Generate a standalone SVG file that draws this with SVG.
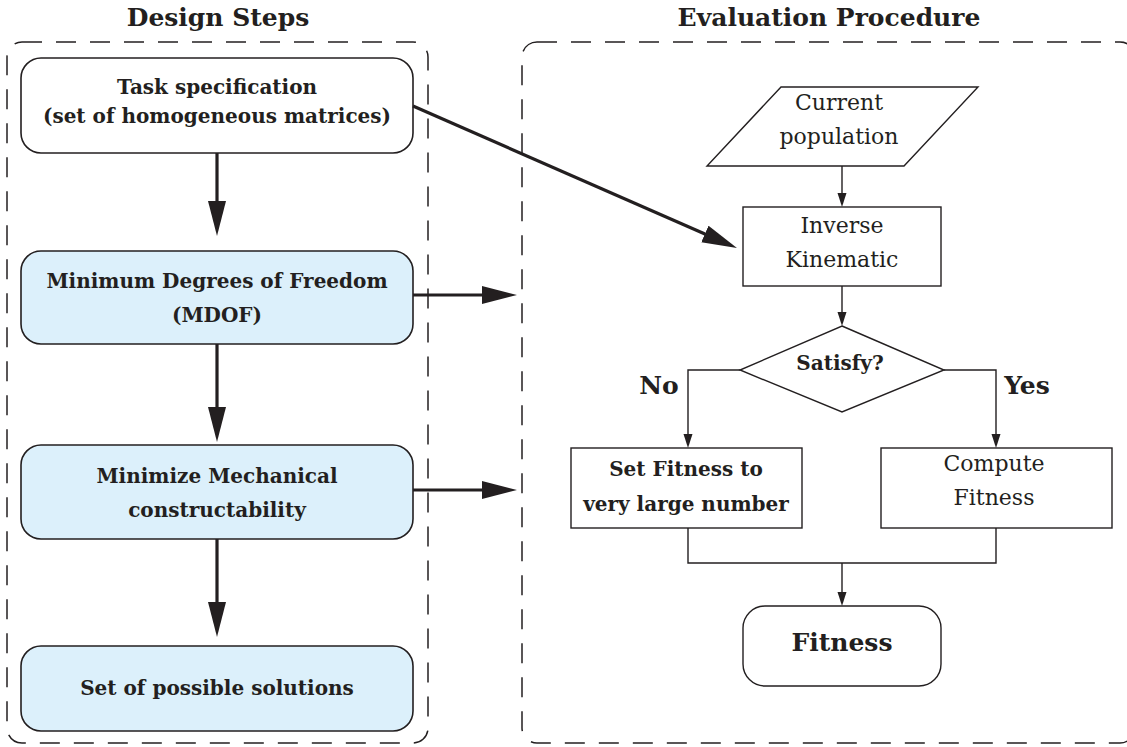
<svg xmlns="http://www.w3.org/2000/svg" width="1127" height="747" viewBox="0 0 1127 747">
  <defs>
    <style>
      text { font-family: "DejaVu Serif", "Liberation Serif", serif; fill: #231f20; text-anchor: middle; }
      .b { font-weight: bold; }
      .lbl { font-size: 20px; font-weight: bold; }
      .rg { font-size: 22px; font-weight: normal; }
      .title { font-size: 25px; font-weight: bold; }
      .big { font-size: 25px; font-weight: bold; }
      .frame { fill: none; stroke: #231f20; stroke-width: 1.5; stroke-dasharray: 20 14; }
      .step { stroke: #231f20; stroke-width: 1.6; }
      .white { fill: #ffffff; }
      .blue { fill: #dcf0fb; }
      .box { fill: #ffffff; stroke: #231f20; stroke-width: 1.4; }
      .thick { fill: none; stroke: #231f20; stroke-width: 3.2; marker-end: url(#bigHead); }
      .thin { fill: none; stroke: #231f20; stroke-width: 1.4; }
      .thinArrow { fill: none; stroke: #231f20; stroke-width: 1.4; marker-end: url(#smallHead); }
    </style>
    <marker id="bigHead" markerUnits="userSpaceOnUse" markerWidth="36" markerHeight="20" refX="25" refY="9" orient="auto" viewBox="0 0 36 20">
      <path d="M0,0 L35,9 L0,18 Z" fill="#231f20"/>
    </marker>
    <marker id="smallHead" markerUnits="userSpaceOnUse" markerWidth="16" markerHeight="10" refX="10" refY="4.5" orient="auto" viewBox="0 0 16 10">
      <path d="M0,0 L14,4.5 L0,9 Z" fill="#231f20"/>
    </marker>
  </defs>

  <rect width="1127" height="747" fill="#ffffff"/>

  <!-- Section frames and titles -->
  <g id="design-steps-frame">
    <rect class="frame" x="7" y="42" width="421" height="701" rx="15"/>
    <text class="title" x="218" y="26">Design Steps</text>
  </g>
  <g id="evaluation-frame">
    <rect class="frame" x="522" y="42" width="613" height="701" rx="15"/>
    <text class="title" x="829" y="26">Evaluation Procedure</text>
  </g>

  <!-- Design steps -->
  <g id="task-spec">
    <rect class="step white" x="21" y="58" width="392" height="95" rx="20"/>
    <text class="lbl" x="217" y="94">Task specification</text>
    <text class="lbl" x="217" y="123">(set of homogeneous matrices)</text>
  </g>
  <g id="mdof">
    <rect class="step blue" x="21" y="251" width="392" height="93" rx="20"/>
    <text class="lbl" x="217" y="288">Minimum Degrees of Freedom</text>
    <text class="lbl" x="217" y="322">(MDOF)</text>
  </g>
  <g id="mechanical">
    <rect class="step blue" x="21" y="445" width="392" height="94" rx="20"/>
    <text class="lbl" x="217" y="483">Minimize Mechanical</text>
    <text class="lbl" x="217" y="517">constructability</text>
  </g>
  <g id="solutions">
    <rect class="step blue" x="21" y="646" width="392" height="85" rx="20"/>
    <text class="lbl" x="217" y="695">Set of possible solutions</text>
  </g>

  <!-- Evaluation procedure -->
  <g id="population">
    <polygon class="box" points="781,87 978,87 904,166 707,166"/>
    <text class="rg" x="839" y="110">Current</text>
    <text class="rg" x="839" y="144">population</text>
  </g>
  <g id="inverse-kinematic">
    <rect class="box" x="743" y="207" width="198" height="79"/>
    <text class="rg" x="842" y="233">Inverse</text>
    <text class="rg" x="842" y="267">Kinematic</text>
  </g>
  <g id="satisfy">
    <polygon class="box" points="842,326 944,370 842,412 740,370"/>
    <text class="lbl" x="840" y="370">Satisfy?</text>
  </g>
  <g id="set-fitness">
    <rect class="box" x="571" y="448" width="231" height="80"/>
    <text class="lbl" x="686" y="476">Set Fitness to</text>
    <text class="lbl" x="686" y="511">very large number</text>
  </g>
  <g id="compute-fitness">
    <rect class="box" x="881" y="448" width="231" height="80"/>
    <text class="rg" x="994" y="471">Compute</text>
    <text class="rg" x="994" y="505">Fitness</text>
  </g>
  <g id="fitness">
    <rect class="box" x="743" y="606" width="198" height="80" rx="22"/>
    <text class="big" x="842" y="651">Fitness</text>
  </g>

  <!-- Connectors -->
  <g id="connectors">
    <line class="thick" x1="217" y1="153" x2="217" y2="226"/>
    <line class="thick" x1="217" y1="344" x2="217" y2="432"/>
    <line class="thick" x1="217" y1="539" x2="217" y2="627"/>
    <line class="thick" x1="413" y1="295" x2="507" y2="295"/>
    <line class="thick" x1="413" y1="490" x2="507" y2="490"/>
    <line class="thick" x1="413" y1="106" x2="727.8" y2="244"/>

    <line class="thinArrow" x1="842" y1="166" x2="842" y2="203"/>
    <line class="thinArrow" x1="842" y1="286" x2="842" y2="322"/>
    <path class="thinArrow" d="M740,370 H688 V444"/>
    <path class="thinArrow" d="M944,370 H996 V444"/>
    <path class="thin" d="M688,528 V563 H996 V528"/>
    <line class="thinArrow" x1="842" y1="563" x2="842" y2="602"/>

    <text class="big" x="659" y="394">No</text>
    <text class="big" x="1027" y="394">Yes</text>
  </g>
</svg>
